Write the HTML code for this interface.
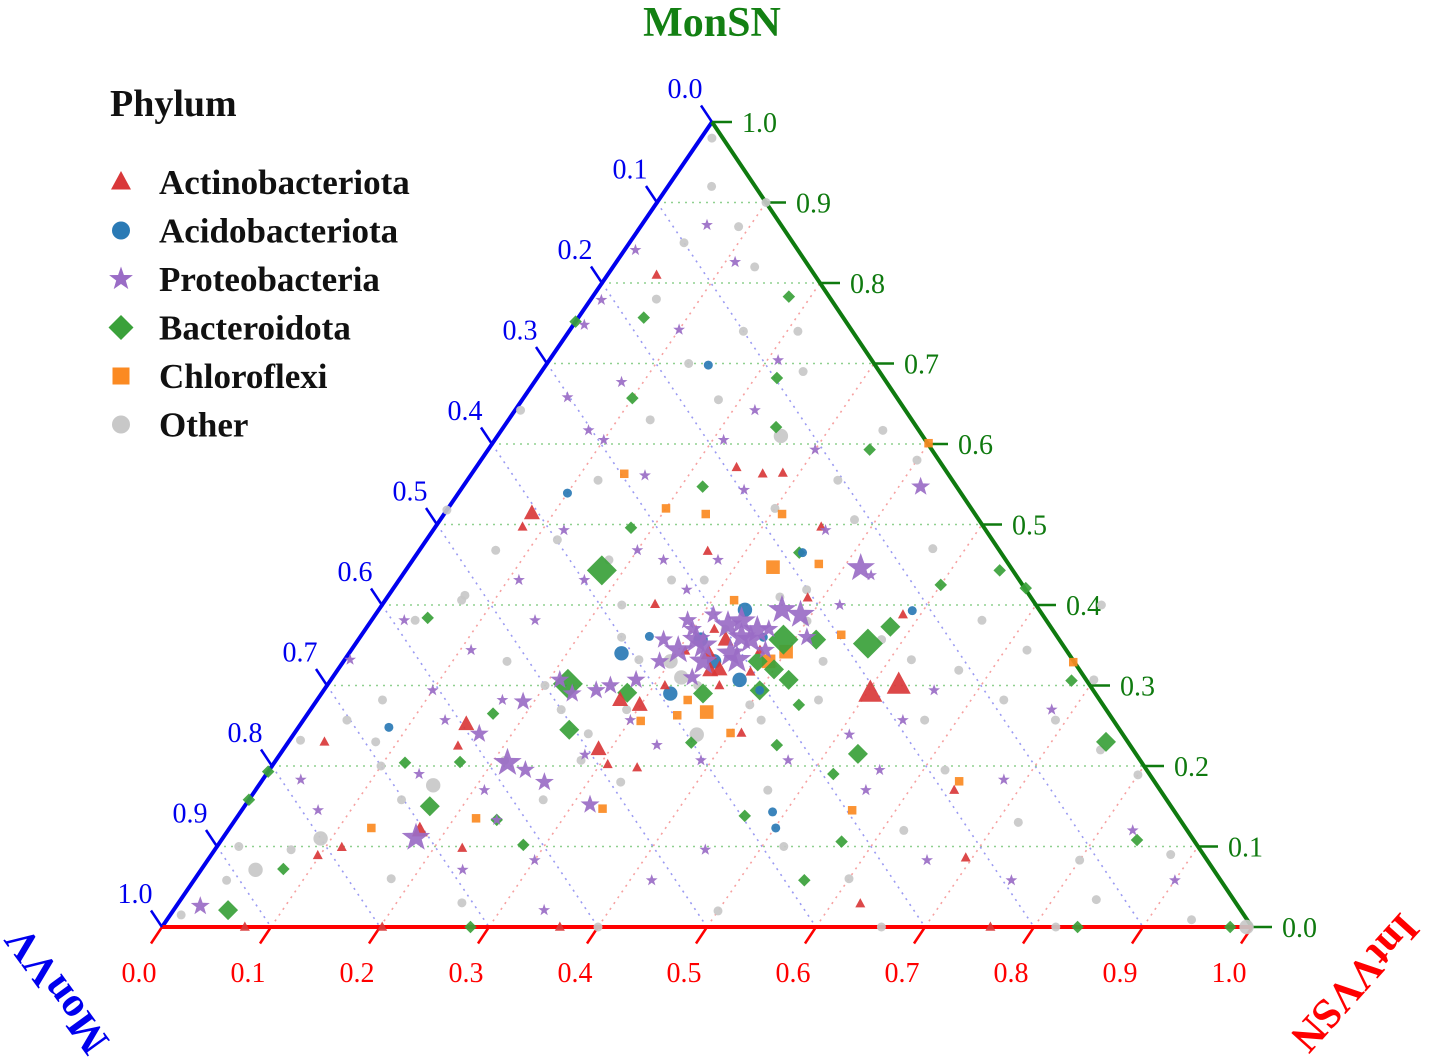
<!DOCTYPE html>
<html><head><meta charset="utf-8"><style>
html,body{margin:0;padding:0;background:#fff;}
svg{display:block;font-family:"Liberation Serif",serif;}
</style></head><body>
<svg id="chart" width="1429" height="1062" viewBox="0 0 1429 1062" xmlns="http://www.w3.org/2000/svg">
<g id="grid"></g>
<g id="axes"></g>
<g id="points"></g>
<text x="712" y="36" text-anchor="middle" font-size="42" font-weight="bold" fill="#138013">MonSN</text>
<text transform="translate(60,988) rotate(234)" text-anchor="middle" dominant-baseline="middle" font-size="42" font-weight="bold" fill="#0000ee">MonVV</text>
<text transform="translate(1352,980) rotate(132)" text-anchor="middle" dominant-baseline="middle" font-size="42" font-weight="bold" fill="#ff0000">IntVVSN</text>
<g id="legend">
<text x="110" y="116" font-size="38" font-weight="bold" fill="#111">Phylum</text>
</g>
</svg>
<script>
// ternary data: [IntVVSN, MonSN, sizeClass]
const phyla = ['Actinobacteriota','Acidobacteriota','Proteobacteria','Bacteroidota','Chloroflexi','Other'];
const colors = ['#d9383a','#2a7ab5','#9a6cc6','#3aa13a','#fb8a22','#c8c8c8'];
const shapes = ['triangle','circle','star','diamond','square','circle'];

const otherPts = [[.01,.98,1],[.09,.87,1],[.13,.82,1],[.06,.78,1],[.13,.70,1],[.16,.74,1],[.21,.74,1],[.26,.61,2],[.18,.655,1],[.13,.63,1],[.35,.617,1],[.40,.58,1],[.34,.555,1],[.12,.555,1],[.005,.642,1],[.12,.481,1],[.07,.468,1],[.07,.412,1],[.04,.381,1],[.06,.282,1],[.04,.257,1],[.01,.232,1],[.07,.096,1],[.05,.071,2],[.03,.058,1],[.01,.015,1],[.14,.158,1],[.16,.176,2],[.28,.102,1],[.28,.207,1],[.23,.27,1],[.27,.332,1],[.37,.239,2],[.40,.276,1],[.46,.282,1],[.48,.357,1],[.52,.332,1],[.57,.257,1],[.62,.195,1],[.62,.12,1],[.56,.381,1],[.62,.344,1],[.69,.257,1],[.70,.307,1],[.80,.189,1],[.80,.083,1],[.84,.034,1],[.94,.009,1],[.995,.0,2],[.40,0,1],[.66,0,1],[.82,0,1],[.25,.431,1],[.42,.257,1],[.27,.158,1],[.21,.207,1],[.07,.406,1],[.0,.518,1],[.18,.456,1],[.28,.431,1],[.38,.419,1],[.38,.506,1],[.57,.319,1],[.63,.282,1],[.30,.33,2],[.34,.30,1],[.33,.37,1],[.22,.40,1],[.24,.36,1],[.29,.27,1],[.32,.31,2],[.36,.41,1],[.40,.38,1],[.44,.33,1],[.27,.24,1],[.20,.30,1],[.15,.33,1],[.10,.20,1],[.09,.11,2],[.02,.10,1],[.18,.06,1],[.33,.18,1],[.47,.17,1],[.52,.10,1],[.60,.06,1],[.72,.13,1],[.75,.22,1],[.66,.40,1],[.47,.47,1],[.30,.52,1],[.24,.69,1],[.10,.90,1],[.04,.92,1],[.05,.85,1],[.08,.23,1],[.26,.03,1],[.50,.02,1],[.88,.09,1]];
const actinoPts = [[.045,.81,1],[.08,.514,2],[.08,.497,1],[.239,.571,1],[.267,.563,1],[.285,.564,1],[.265,.467,1],[.354,.497,1],[.25,.401,1],[.386,.409,1],[.484,.388,1],[.524,.301,3],[.503,.291,3],[.152,.252,2],[.289,.221,2],[.158,.225,1],[.033,.23,1],[.176,.12,2],[.098,.089,1],[.115,.099,1],[.226,.098,1],[.307,.202,1],[.336,.198,1],[.41,.241,1],[.38,.317,1],[.342,.319,2],[.626,.029,1],[.694,.086,1],[.641,.17,1],[.076,0,1],[.202,0,1],[.365,0,1],[.76,0,1],[.278,.282,2],[.299,.276,2],[.307,.343,1],[.337,.357,2],[.375,.344,1],[.33,.34,2],[.35,.32,2],[.31,.30,1],[.36,.30,1],[.32,.37,1]];
const acidoPts = [[.149,.698,1],[.10,.539,1],[.25,.34,2],[.083,.248,1],[.353,.465,1],[.49,.393,1],[.501,.123,1],[.488,.143,1],[.375,.307,2],[.336,.394,2],[.314,.357,2],[.40,.294,1],[.265,.361,1],[.34,.33,2],[.37,.36,1],[.32,.29,2]];
const proteoPts = [[.416,.446,3],[.214,.204,3],[.235,.195,2],[.177,.111,3],[.316,.152,2],[.42,.547,2],[.022,.026,2],[.06,.872,1],[.109,.826,1],[.01,.841,1],[.01,.779,1],[.04,.658,1],[.08,.677,1],[.08,.617,1],[.10,.605,1],[.16,.561,1],[.21,.704,1],[.22,.642,1],[.30,.593,1],[.21,.605,1],[.26,.543,1],[.36,.493,1],[.42,.40,1],[.43,.437,1],[.03,.381,1],[.10,.294,1],[.13,.257,1],[.005,.332,1],[.035,.183,1],[.07,.145,1],[.21,.17,1],[.24,.133,1],[.24,.071,1],[.30,.083,1],[.34,.021,1],[.42,.058,1],[.45,.096,1],[.56,.17,1],[.55,.257,1],[.56,.294,1],[.68,.183,1],[.68,.27,1],[.83,.12,1],[.90,.058,1],[.75,.058,1],[.66,.083,1],[.01,.748,1],[.20,.468,1],[.23,.456,1],[.15,.381,1],[.21,.307,2],[.25,.294,2],[.30,.257,1],[.34,.226,1],[.39,.207,1],[.47,.207,1],[.51,.239,1],[.56,.195,1],[.28,.214,1],[.11,.344,1],[.17,.282,1],[.11,.431,1],[.17,.431,1],[.12,.493,1],[.10,.742,1],[.28,.456,1],[.27,.419,1],[.31,.357,3],[.33,.375,3],[.36,.369,3],[.37,.394,3],[.36,.332,3],[.30,.344,3],[.31,.388,2],[.39,.388,3],[.28,.357,2],[.28,.307,2],[.29,.381,2],[.36,.357,3],[.38,.344,2],[.26,.30,2],[.33,.33,3],[.35,.36,3],[.32,.35,3],[.34,.38,3],[.30,.37,2],[.35,.34,3],[.33,.31,2],[.37,.37,2],[.29,.33,2],[.23,.29,2],[.19,.28,2],[.17,.24,2],[.14,.19,1],[.26,.18,2],[.41,.36,2]];
const bactPts = [[.18,.783,1],[.06,.757,1],[.0,.752,1],[.22,.682,1],[.10,.657,1],[.35,.593,1],[.25,.621,1],[.22,.547,1],[.18,.496,1],[.18,.443,3],[.35,.465,1],[.50,.425,1],[.545,.443,1],[.58,.421,1],[.47,.352,3],[.48,.373,2],[.05,.384,1],[.22,.302,3],[.28,.291,2],[.17,.265,1],[.12,.204,1],[.17,.15,2],[.075,.072,1],[.0,.193,1],[.0,.158,1],[.05,.021,2],[.28,.102,1],[.24,.133,1],[.17,.205,1],[.25,.245,2],[.37,.229,1],[.45,.226,1],[.445,.276,1],[.53,.215,2],[.52,.19,1],[.57,.106,1],[.56,.058,1],[.465,.138,1],[.68,.306,1],[.75,.23,2],[.84,.108,1],[.283,0,1],[.84,0,1],[.98,0,1],[.39,.357,3],[.42,.307,2],[.40,.294,2],[.42,.357,2],[.35,.29,2],[.38,.33,2],[.40,.32,2]];
const chloroPts = [[.14,.563,1],[.20,.52,1],[.24,.513,1],[.31,.513,1],[.335,.447,2],[.375,.451,1],[.44,.363,1],[.40,.342,2],[.31,.256,1],[.34,.263,1],[.365,.267,2],[.40,.241,1],[.33,.147,1],[.22,.135,1],[.13,.123,1],[.56,.145,1],[.64,.181,1],[.40,.601,1],[.67,.329,1],[.32,.406,1],[.34,.282,1],[.39,.33,2]];
const seriesPts = [actinoPts, acidoPts, proteoPts, bactPts, chloroPts, otherPts];

const NS = 'http://www.w3.org/2000/svg';
const T = {x:712,y:122}, L = {x:162,y:927}, R = {x:1252,y:927};
function pos(c,b){ return {x: L.x + (R.x-L.x)*c + (T.x-L.x)*b, y: L.y - (L.y-T.y)*b}; }
function mk(tag, attrs, parent){ const e=document.createElementNS(NS,tag); for(const k in attrs) e.setAttribute(k,attrs[k]); parent.appendChild(e); return e; }

const grid = document.getElementById('grid');
const axes = document.getElementById('axes');
for(let k=1;k<=9;k++){
  const v=k/10;
  let p1=pos(0,v), p2=pos(1-v,v);
  let g1=mk('line',{x1:p1.x,y1:p1.y,x2:p2.x,y2:p2.y,stroke:'#8fd08f','stroke-width':1.6,'stroke-dasharray':'2,5'},grid);
  
  
  p1=pos(0,1-v); p2=pos(1-v,0);
  let g2=mk('line',{x1:p1.x,y1:p1.y,x2:p2.x,y2:p2.y,stroke:'#9a9af2','stroke-width':1.6,'stroke-dasharray':'2,5'},grid);
  
  
  p1=pos(v,0); p2=pos(v,1-v);
  let g3=mk('line',{x1:p1.x,y1:p1.y,x2:p2.x,y2:p2.y,stroke:'#f6a0a0','stroke-width':1.6,'stroke-dasharray':'2,5'},grid);
  
  
}
let ax;
ax=mk('line',{x1:T.x,y1:T.y,x2:L.x,y2:L.y,stroke:'#0000ee','stroke-width':4},axes);
 
ax=mk('line',{x1:T.x,y1:T.y,x2:R.x,y2:R.y,stroke:'#0f7a0f','stroke-width':4},axes);
 
ax=mk('line',{x1:L.x,y1:L.y,x2:R.x,y2:R.y,stroke:'#ff0000','stroke-width':4},axes);
 

const tickVals=[0,0.1,0.2,0.3,0.4,0.5,0.6,0.7,0.8,0.9,1.0];
tickVals.forEach(v=>{
  const lbl=v.toFixed(1);
  let p=pos(0,1-v);
  let t=mk('line',{x1:p.x,y1:p.y,x2:p.x-11,y2:p.y-16.5,stroke:'#0000ee','stroke-width':2.5},axes);
   
  let tx=mk('text',{x:p.x-27,y:p.y-24,'text-anchor':'middle','font-size':28,fill:'#0000ee'},axes);
  tx.textContent=lbl;
   
  p=pos(v,0);
  t=mk('line',{x1:p.x,y1:p.y,x2:p.x-11,y2:p.y+16.5,stroke:'#ff0000','stroke-width':2.5},axes);
   
  tx=mk('text',{x:p.x-23,y:p.y+55,'text-anchor':'middle','font-size':28,fill:'#ff0000'},axes);
  tx.textContent=lbl;
   
  p=pos(1-v,v);
  t=mk('line',{x1:p.x,y1:p.y,x2:p.x+20,y2:p.y,stroke:'#0f7a0f','stroke-width':2.5},axes);
   
  tx=mk('text',{x:p.x+30,y:p.y+10,'text-anchor':'start','font-size':28,fill:'#0f7a0f'},axes);
  tx.textContent=lbl;
   
});

function marker(shape,x,y,r,color,parent){
  let e;
  if(shape==='circle') e=mk('circle',{cx:x,cy:y,r:r*0.9,fill:color},parent);
  else if(shape==='square') e=mk('rect',{x:x-r*0.85,y:y-r*0.85,width:r*1.7,height:r*1.7,fill:color},parent);
  else if(shape==='diamond') e=mk('polygon',{points:`${x},${y-r*1.25} ${x+r*1.25},${y} ${x},${y+r*1.25} ${x-r*1.25},${y}`,fill:color},parent);
  else if(shape==='triangle') e=mk('polygon',{points:`${x},${y-r*1.1} ${x+r},${y+r*0.75} ${x-r},${y+r*0.75}`,fill:color},parent);
  else { let pts=[]; for(let i=0;i<10;i++){const rr=i%2?r*0.5:r*1.25; const an=-Math.PI/2+i*Math.PI/5; pts.push((x+rr*Math.cos(an)).toFixed(1)+','+(y+rr*Math.sin(an)).toFixed(1));} e=mk('polygon',{points:pts.join(' '),fill:color},parent); }
  return e;
}
const sizeR=[0,5,8,12];
const pg=document.getElementById('points');
const order=[5,4,3,1,0,2];
order.forEach(si=>{
  const g=mk('g',{},pg);
  
  
  seriesPts[si].forEach(d=>{
    const p=pos(d[0],d[1]);
    const m=marker(shapes[si],p.x,p.y,sizeR[d[2]],colors[si],g);
    m.setAttribute('opacity',0.92);
    
    
  });
});

const lg=document.getElementById('legend');
phyla.forEach((name,i)=>{
  const y=182+i*48.5;
  const g=mk('g',{},lg);
  
  
  marker(shapes[i],121,y,10,colors[i],g);
  const t=mk('text',{x:159,y:y+12,'font-size':35,'font-weight':'bold',fill:'#111'},g);
  t.textContent=name;
});
</script>
</body></html>
